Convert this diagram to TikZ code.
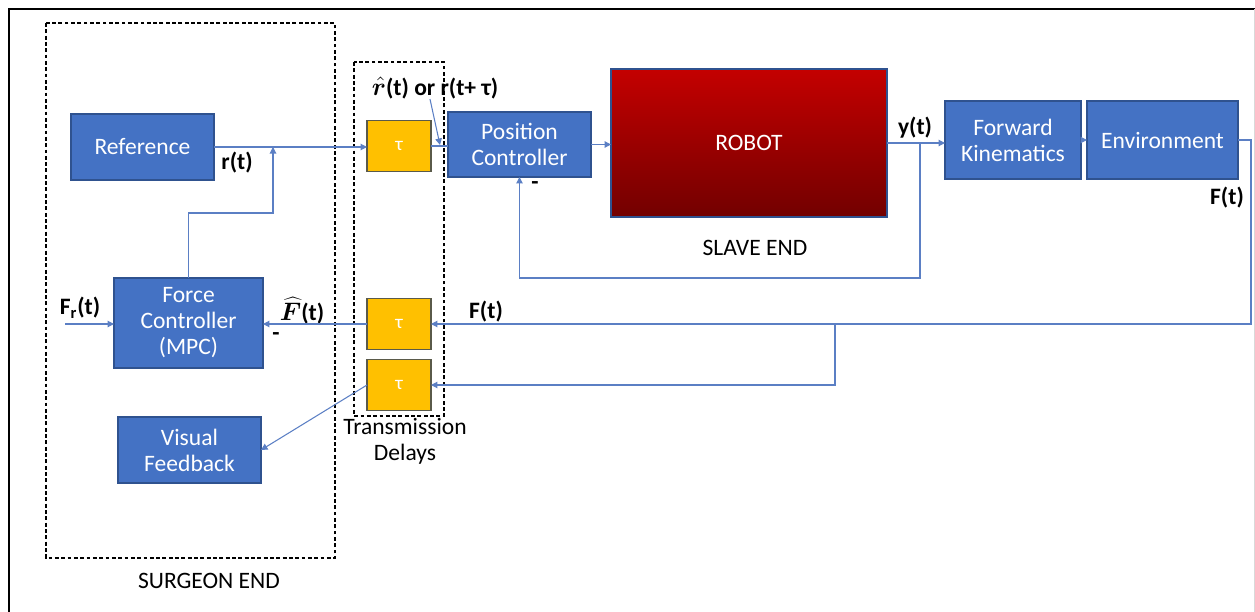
\documentclass[tikz,border=0pt]{standalone}
\usepackage{bm}
\usepackage{fontspec}
\setmainfont{Carlito}
\usetikzlibrary{arrows.meta}

\definecolor{boxblue}{HTML}{4472C4}
\definecolor{boxedge}{HTML}{2F528F}
\definecolor{delayfill}{HTML}{FFC000}
\definecolor{delayedge}{HTML}{5A5A4A}
\definecolor{robottop}{HTML}{C40000}
\definecolor{robotbot}{HTML}{720000}
\definecolor{wire}{HTML}{5B7FC4}

\tikzset{
  blk/.style={draw=boxedge, line width=0.9pt, fill=boxblue, text=white,
    inner sep=0pt, outer sep=0pt, align=center,
    font=\fontsize{13.4}{14.8}\selectfont},
  delaybox/.style={draw=delayedge, line width=0.9pt, fill=delayfill, text=white,
    inner sep=0pt, outer sep=0pt, minimum width=1.28cm, minimum height=1.02cm,
    font=\fontsize{11}{12}\selectfont},
  conn/.style={draw=wire, line width=0.6pt},
  arr/.style={conn, -{Triangle[length=1.3mm,width=1.3mm]}},
  grp/.style={draw=black, line width=0.8pt, dash pattern=on 2.2pt off 1.4pt},
  lbl/.style={font=\bfseries\fontsize{13.4}{14.8}\selectfont, inner sep=0pt},
  captxt/.style={font=\fontsize{13.4}{14.8}\selectfont, inner sep=0pt, align=center}
}

\begin{document}
\begin{tikzpicture}[x=0.02cm, y=-0.02cm]
\useasboundingbox (0,0) rectangle (1255,612);

% page frame
\draw[line width=1.2pt] (9,613) -- (9,9) -- (1256,9);
\draw[black!15, line width=0.5pt] (1254,9) -- (1254,613);

% grouping frames
\draw[grp] (46,23) rectangle (335,558);
\draw[grp] (354,62) rectangle (444,416);
\node[captxt] (surgeon) at (209,581) {SURGEON END};
\node[captxt] (delays) at (405,441) {Transmission\\Delays};
\node[captxt] (slave) at (755,248) {SLAVE END};

% surgeon side blocks
\node[blk, minimum width=2.86cm, minimum height=1.32cm] (ref) at (142.5,147) {Reference};
\node[blk, minimum width=2.98cm, minimum height=1.80cm] (fc) at (188.5,323) {Force\\Controller\\(MPC)};
\node[blk, minimum width=2.86cm, minimum height=1.32cm] (vf) at (189.5,450) {Visual\\Feedback};

% transmission delays
\node[delaybox] (tau1) at (399,146) {τ};
\node[delaybox] (tau2) at (399,324) {τ};
\node[delaybox] (tau3) at (399,385) {τ};

% slave side blocks
\node[blk, minimum width=2.86cm, minimum height=1.30cm] (pc) at (519.5,144.5) {Position\\Controller};
\node[draw=boxedge, line width=0.9pt, top color=robottop, bottom color=robotbot,
      text=white, inner sep=0pt, outer sep=0pt, minimum width=5.52cm, minimum height=2.96cm,
      font=\fontsize{13.4}{14.8}\selectfont] (robot) at (749,143) {ROBOT};
\node[blk, minimum width=2.72cm, minimum height=1.56cm] (fk) at (1013,140) {Forward\\Kinematics};
\node[blk, minimum width=3.02cm, minimum height=1.56cm] (env) at (1162.5,140) {Environment};

% signal labels
\node[lbl] (rt) at (237,163) {r(t)};
\node[lbl] (rhat) at (435,88) {$\bm{\hat{r}}$(t) or r(t+ τ)};
\node[lbl] (yt) at (915,128) {y(t)};
\node[lbl] (fenv) at (1227,198) {F(t)};
\node[lbl] (fret) at (486,312) {F(t)};
\node[lbl] (fhat) at (302,311) {$\bm{\widehat{F}}$(t)};
\node[lbl] (fref) at (80,308) {F\textsubscript{r}(t)};
\node[lbl] (minpc) at (535,186) {-};
\node[lbl] (minfc) at (276,337) {-};

% junction and free-end points
\coordinate (jr) at (273,147);
\coordinate (jy) at (920,143);
\coordinate (jf) at (835,324);
\coordinate (fin) at (65,324);
\coordinate (rin) at (440,145);

% forward path
\draw[arr] (ref.east |- jr) -- (jr -| tau1.west);
\draw[conn] (tau1.east) -- (tau1.east -| pc.west);
\draw[arr] ([xshift=-0.1cm]rhat.south) -- (rin);
\draw[arr] (pc.east) -- (pc.east -| robot.west);
\draw[arr] (robot.east |- jy) -- (jy -| fk.west);
\draw[arr] (fk.east) -- (env.west);

% force controller output into reference line
\draw[arr] (fc.north) |- (273,213) -- (jr);

% position feedback
\draw[arr] (jy) -- (920,278) -| (pc.south);

% force feedback paths
\draw[arr] (env.east) -- (1251,140) |- (tau2.east);
\draw[arr] (jf) |- (tau3.east);
\draw[arr] (tau2.west) -- (tau2.west -| fc.east);
\draw[arr] (fin) -- (fin -| fc.west);
\draw[arr] (tau3.west) -- (vf.east);
\end{tikzpicture}
\end{document}
